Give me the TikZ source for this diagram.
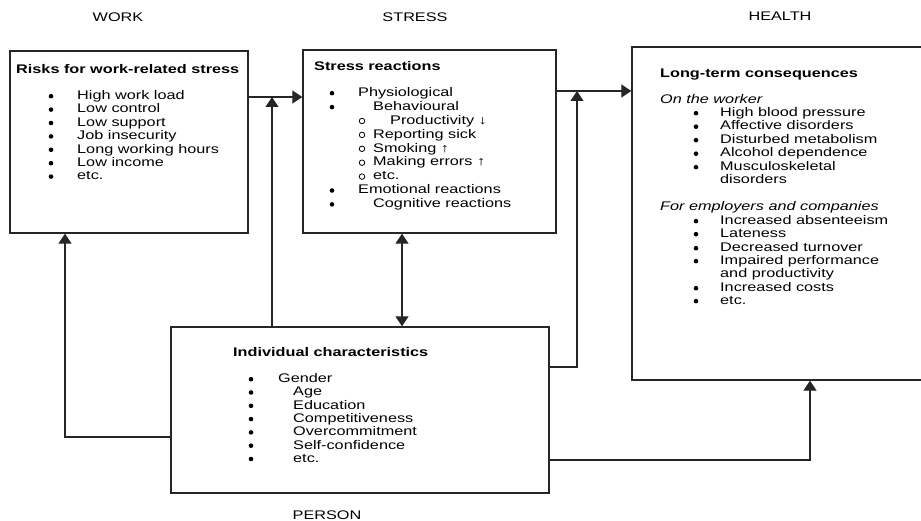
\documentclass[tikz,border=0pt]{standalone}
\usepackage{fontspec}
\setmainfont{Liberation Sans}[FakeStretch=1.3]
\usetikzlibrary{arrows.meta}
\tikzset{font=\fontsize{12.5}{13.5}\selectfont}
\tikzset{box/.style={draw=black!85,line width=1.3pt,inner sep=0pt},
  txt/.style={anchor=base west,inner sep=0pt},
  dot/.style={circle,fill=black,inner sep=0pt,minimum size=4.6pt},
  ring/.style={circle,draw=black,line width=0.8pt,inner sep=0pt,minimum size=5.5pt},
  head/.style={inner sep=0pt},
  arr/.style={draw=black!85,line width=1.2pt,-{Triangle[length=10pt,width=13pt]}},
  dblarr/.style={arr,{Triangle[length=10pt,width=13pt]}-{Triangle[length=10pt,width=13pt]}}}

\begin{document}
\begin{tikzpicture}[x=1pt,y=-1pt]
\useasboundingbox (0,0) rectangle (921,521);
% headings
\node[head] (work) at (118,17) {WORK};
\node[head] (stress) at (415,17) {STRESS};
\node[head] (hlth) at (780,16) {HEALTH};
\node[head] (pers) at (327,515) {PERSON};

% boxes
\node[box,minimum width=238pt,minimum height=182pt] (risks) at (129,142) {};
\node[box,minimum width=253pt,minimum height=183pt] (react) at (429.5,141.5) {};
\node[box,minimum width=294pt,minimum height=333pt] (health) at (779,213.5) {};
\node[box,minimum width=378pt,minimum height=166pt] (person) at (360,410) {};

% work
\node[txt] (risks-t) at (16,73.5) {\bfseries Risks for work-related stress};
\foreach \t [count=\i] in {High work load,Low control,Low support,Job insecurity,
    Long working hours,Low income,etc.}{
  \node[txt] (risks-\i) at (77,{99.5+13.4*(\i-1)}) {\t};
  \node[dot] (risks-b\i) at (51,{96.2+13.4*(\i-1)}) {};
}

% stress
\node[txt] (react-t) at (314,70.5) {\bfseries Stress reactions};
\foreach \b/\bx/\tx/\t [count=\i] in {dot/332/358/Physiological,dot/332/373/Behavioural,
    ring/362/390/Productivity ↓,ring/362/373/Reporting sick,ring/362/373/Smoking ↑,
    ring/362/373/Making errors ↑,ring/362/373/etc.,dot/332/358/Emotional reactions,
    dot/332/373/Cognitive reactions}{
  \node[txt] (react-\i) at (\tx,{96.5+13.9*(\i-1)}) {\t};
  \node[\b] (react-b\i) at (\bx,{93.2+13.9*(\i-1)}) {};
}

% health
\node[txt] (health-t) at (660,77.5) {\bfseries Long-term consequences};
\node[txt] (health-w) at (660,103.5) {\itshape On the worker};
\foreach \y/\t [count=\i] in {116.5/High blood pressure,130/Affective disorders,
    143.5/Disturbed metabolism,157/Alcohol dependence,170.5/Musculoskeletal}{
  \node[txt] (worker-\i) at (720,\y) {\t};
  \node[dot] (worker-b\i) at (696,\y-3.3) {};
}
\node[txt] (worker-5a) at (720,184) {disorders};
\node[txt] (health-e) at (660,210.5) {\itshape For employers and companies};
\foreach \y/\t [count=\i] in {224.5/Increased absenteeism,237.5/Lateness,
    251.5/Decreased turnover,264.5/Impaired performance,291.5/Increased costs,304.5/etc.}{
  \node[txt] (firm-\i) at (720,\y) {\t};
  \node[dot] (firm-b\i) at (696,\y-3.3) {};
}
\node[txt] (firm-4a) at (720,277.5) {and productivity};

% person
\node[txt] (person-t) at (233,356.5) {\bfseries Individual characteristics};
\foreach \x/\t [count=\i] in {278/Gender,293/Age,293/Education,293/Competitiveness,
    293/Overcommitment,293/Self-confidence,293/etc.}{
  \node[txt] (person-\i) at (\x,{382.5+13.3*(\i-1)}) {\t};
  \node[dot] (person-b\i) at (251,{379.2+13.3*(\i-1)}) {};
}

% connectors
\coordinate (j1) at (272,97);
\coordinate (j2) at (577,91);
\draw[arr] (risks.east |- j1) -- (react.west |- j1);
\draw[arr] (person.north -| j1) -- (j1);
\draw[arr] (react.east |- j2) -- (health.west |- j2);
\draw[arr] (person.east |- 0,367) -| (j2);
\draw[dblarr] (react.south -| 402,0) -- (person.north -| 402,0);
\draw[arr] (person.west |- 0,437) -| (risks.south -| 65,0);
\draw[arr] (person.east |- 0,460) -| (health.south -| 810,0);
\end{tikzpicture}
\end{document}
